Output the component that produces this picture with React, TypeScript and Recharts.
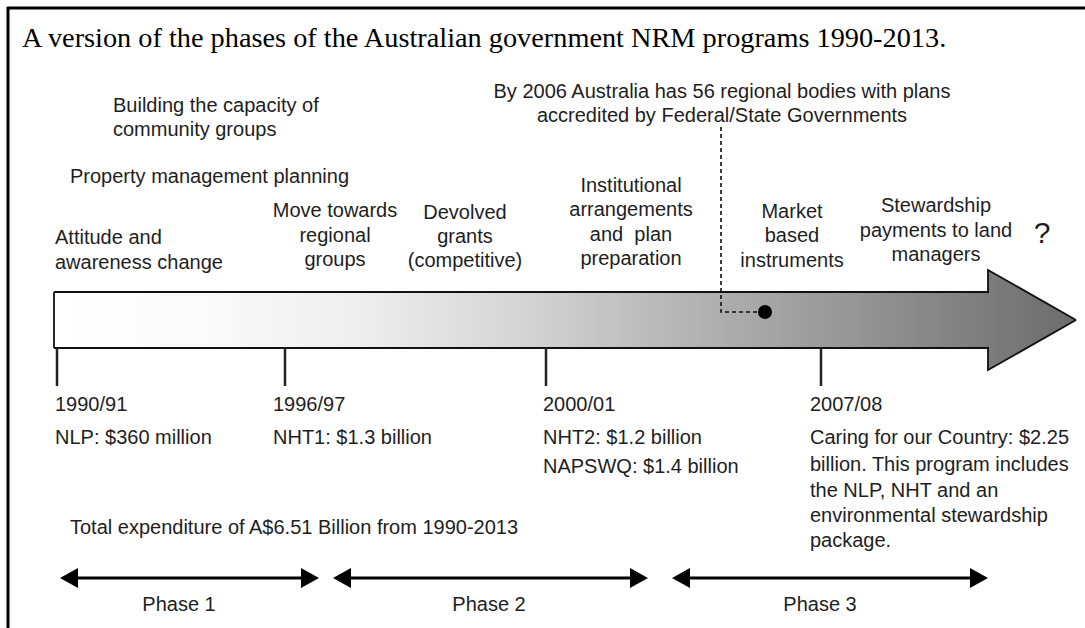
import React from 'react';
import {
  ComposedChart, XAxis, YAxis, Area, Line, Scatter, ReferenceLine, ReferenceDot,
} from 'recharts';

// Diagram space: x 0..1085 (timeline position), y 0..628 (row position, top down)
const arrowOutline = [
  { x: 54, range: [292, 348] },
  { x: 988, range: [292, 348] },
  { x: 988, range: [270, 370] },
  { x: 1076, range: [320, 320] },
];

const milestoneTicks = [57, 285, 546, 821];
const tickTop = 348;
const tickBottom = 386;

const yearLabels = [
  { x: 55, y: 404, text: '1990/91' },
  { x: 273, y: 404, text: '1996/97' },
  { x: 543, y: 404, text: '2000/01' },
  { x: 810, y: 404, text: '2007/08' },
];

const fundingLabels = [
  { x: 55, y: 437, text: 'NLP: $360 million' },
  { x: 273, y: 437, text: 'NHT1: $1.3 billion' },
  { x: 543, y: 437, text: 'NHT2: $1.2 billion' },
  { x: 543, y: 466, text: 'NAPSWQ: $1.4 billion' },
  { x: 810, y: 437, text: 'Caring for our Country: $2.25' },
  { x: 810, y: 464, text: 'billion. This program includes' },
  { x: 810, y: 490, text: 'the NLP, NHT and an' },
  { x: 810, y: 515, text: 'environmental stewardship' },
  { x: 810, y: 540, text: 'package.' },
  { x: 70, y: 527, text: 'Total expenditure of A$6.51 Billion from 1990-2013' },
];

const leftLabels = [
  { x: 113, y: 105, text: 'Building the capacity of' },
  { x: 113, y: 129, text: 'community groups' },
  { x: 70, y: 176, text: 'Property management planning' },
  { x: 55, y: 237, text: 'Attitude and' },
  { x: 55, y: 262, text: 'awareness change' },
];

const centredLabels = [
  { x: 722, y: 91, text: 'By 2006 Australia has 56 regional bodies with plans' },
  { x: 722, y: 115, text: 'accredited by Federal/State Governments' },
  { x: 335, y: 210, text: 'Move towards' },
  { x: 335, y: 235, text: 'regional' },
  { x: 335, y: 259, text: 'groups' },
  { x: 465, y: 212, text: 'Devolved' },
  { x: 465, y: 236, text: 'grants' },
  { x: 465, y: 260, text: '(competitive)' },
  { x: 631, y: 185, text: 'Institutional' },
  { x: 631, y: 209, text: 'arrangements' },
  { x: 631, y: 234, text: 'and  plan' },
  { x: 631, y: 258, text: 'preparation' },
  { x: 792, y: 211, text: 'Market' },
  { x: 792, y: 235, text: 'based' },
  { x: 792, y: 260, text: 'instruments' },
  { x: 936, y: 205, text: 'Stewardship' },
  { x: 936, y: 230, text: 'payments to land' },
  { x: 936, y: 254, text: 'managers' },
];

const questionMark = [{ x: 1042, y: 232, text: '?' }];
const titleLabel = [{ x: 22, y: 37, text: 'A version of the phases of the Australian government NRM programs 1990-2013.' }];

const phaseSpans = [
  { x1: 60, x2: 319, y: 578 },
  { x1: 333, x2: 648, y: 578 },
  { x1: 672, x2: 988, y: 578 },
];
const phaseLabels = [
  { x: 179, y: 604, text: 'Phase 1' },
  { x: 489, y: 604, text: 'Phase 2' },
  { x: 820, y: 604, text: 'Phase 3' },
];

const connector = [
  { x: 721, y: 127 },
  { x: 721, y: 312 },
  { x: 765, y: 312 },
];
const accreditedDot = { x: 765, y: 312 };

const SANS = '"Liberation Sans", Arial, Helvetica, sans-serif';
const SERIF = '"Liberation Serif", "Times New Roman", serif';
const TEXT = '#1e1e1e';

const makeText = (anchor: string, size: number, family: string, color: string) => (props: any) => {
  const { cx, cy, payload } = props;
  if (cx == null || cy == null) return <g />;
  return (
    <text
      x={cx}
      y={cy}
      textAnchor={anchor}
      dominantBaseline="central"
      fontSize={size}
      fontFamily={family}
      fill={color}
      style={{ whiteSpace: 'pre' }}
    >
      {payload.text}
    </text>
  );
};

const phaseArrowShape = (props: any) => {
  const { x1, y1, x2, y2 } = props;
  const head = 18;
  const half = 10;
  return (
    <g>
      <line x1={x1 + head - 2} y1={y1} x2={x2 - head + 2} y2={y2} stroke="#000" strokeWidth={3} />
      <polygon points={`${x1},${y1} ${x1 + head},${y1 - half} ${x1 + head},${y1 + half}`} fill="#000" />
      <polygon points={`${x2},${y2} ${x2 - head},${y2 - half} ${x2 - head},${y2 + half}`} fill="#000" />
    </g>
  );
};

export default function App() {
  return (
    <div style={{ position: 'absolute', left: 0, top: 0, width: 1085, height: 628, background: '#fff' }}>
      <ComposedChart width={1085} height={628} data={arrowOutline} margin={{ top: 0, right: 0, bottom: 0, left: 0 }}>
        <defs>
          <linearGradient id="arrowFill" x1="0" y1="0" x2="1" y2="0">
            <stop offset="0" stopColor="#ffffff" />
            <stop offset="0.14" stopColor="#fbfbfb" />
            <stop offset="0.3" stopColor="#eeeeee" />
            <stop offset="0.45" stopColor="#d6d6d6" />
            <stop offset="0.62" stopColor="#b4b4b4" />
            <stop offset="0.8" stopColor="#929292" />
            <stop offset="1" stopColor="#6c6c6c" />
          </linearGradient>
        </defs>
        <XAxis type="number" dataKey="x" domain={[0, 1085]} hide allowDataOverflow />
        <YAxis type="number" dataKey="y" domain={[0, 628]} reversed hide allowDataOverflow />

        {/* frame */}
        <ReferenceLine segment={[{ x: 7, y: 8 }, { x: 1085, y: 8 }]} stroke="#000" strokeWidth={3} />
        <ReferenceLine segment={[{ x: 8, y: 7 }, { x: 8, y: 628 }]} stroke="#000" strokeWidth={3} />

        {/* timeline arrow */}
        <Area
          dataKey="range"
          type="linear"
          fill="url(#arrowFill)"
          fillOpacity={1}
          stroke="#111"
          strokeWidth={1.8}
          isAnimationActive={false}
          dot={false}
          activeDot={false}
        />
        <ReferenceLine segment={[{ x: 54, y: 292 }, { x: 54, y: 348 }]} stroke="#111" strokeWidth={1.8} />

        {milestoneTicks.map((t) => (
          <ReferenceLine key={t} segment={[{ x: t, y: tickTop }, { x: t, y: tickBottom }]} stroke="#222" strokeWidth={2.5} />
        ))}

        <Line
          data={connector}
          dataKey="y"
          type="linear"
          stroke="#111"
          strokeWidth={1.6}
          strokeDasharray="4 3"
          dot={false}
          activeDot={false}
          isAnimationActive={false}
        />
        <ReferenceDot x={accreditedDot.x} y={accreditedDot.y} r={7} fill="#000" stroke="none" />

        {phaseSpans.map((p, i) => (
          <ReferenceLine
            key={i}
            segment={[{ x: p.x1, y: p.y }, { x: p.x2, y: p.y }]}
            shape={phaseArrowShape}
          />
        ))}

        <Scatter data={titleLabel} shape={makeText('start', 28.3, SERIF, '#000')} isAnimationActive={false} />
        <Scatter data={leftLabels} shape={makeText('start', 20, SANS, TEXT)} isAnimationActive={false} />
        <Scatter data={centredLabels} shape={makeText('middle', 20, SANS, TEXT)} isAnimationActive={false} />
        <Scatter data={questionMark} shape={makeText('middle', 30, SANS, TEXT)} isAnimationActive={false} />
        <Scatter data={yearLabels} shape={makeText('start', 20, SANS, TEXT)} isAnimationActive={false} />
        <Scatter data={fundingLabels} shape={makeText('start', 20, SANS, TEXT)} isAnimationActive={false} />
        <Scatter data={phaseLabels} shape={makeText('middle', 20, SANS, TEXT)} isAnimationActive={false} />
      </ComposedChart>
    </div>
  );
}
